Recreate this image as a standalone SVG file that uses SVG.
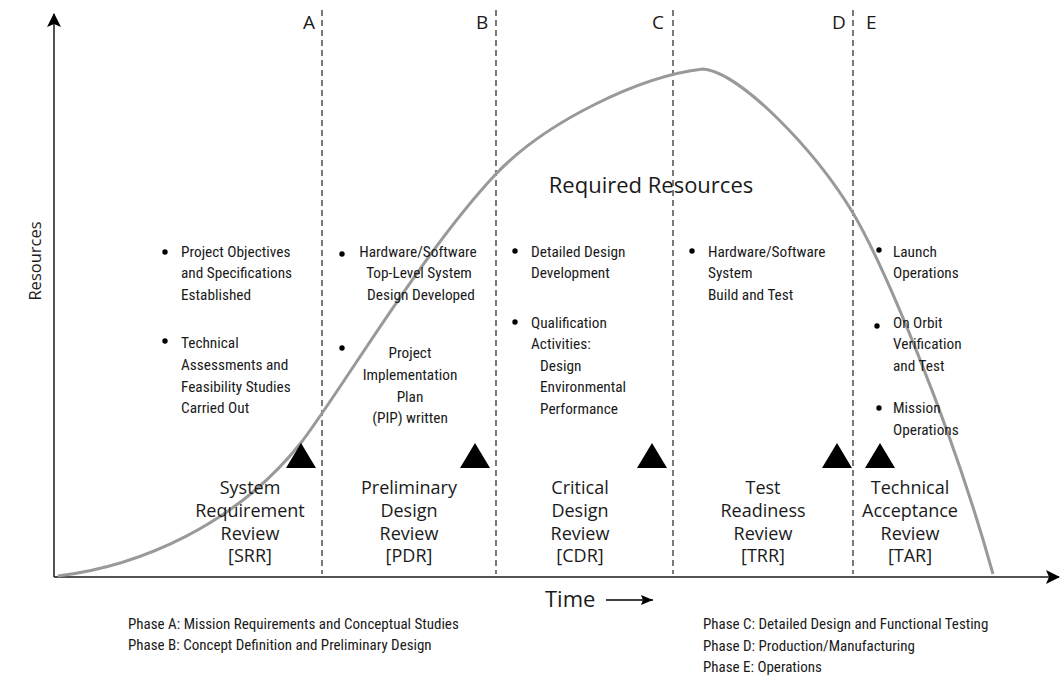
<svg xmlns="http://www.w3.org/2000/svg" width="1061" height="677" viewBox="0 0 1061 677">
<style>
.ax{stroke:#1a1a1a;stroke-width:1.5;fill:none}
.dash{stroke:#333;stroke-width:1.3;stroke-dasharray:6 4;fill:none}
.curve{stroke:#999;stroke-width:3;fill:none}
.lbl{font-family:"Open Sans","Liberation Sans",sans-serif;font-size:19px;fill:#1a1a1a}
.big{font-size:22px}
.ylab{font-size:16.5px}
.rev{font-family:"Open Sans","Liberation Sans",sans-serif;font-size:18px;fill:#1a1a1a;text-anchor:middle}
.bt{font-family:"Liberation Sans Narrow","Roboto Condensed","DejaVu Sans Condensed","Liberation Sans",sans-serif;font-size:15.3px;fill:#1a1a1a}
.ph{font-family:"Liberation Sans Narrow","Roboto Condensed","DejaVu Sans Condensed","Liberation Sans",sans-serif;font-size:15px;fill:#1a1a1a}
.mid{text-anchor:middle}
.tri{fill:#000}
.dot{fill:#000}
</style>
<defs>
<marker id="ah" markerWidth="14" markerHeight="14" refX="13" refY="7" orient="auto" markerUnits="userSpaceOnUse">
<path d="M0,0 L14,7 L0,14 L3,7 Z" fill="#000"/>
</marker>
<marker id="ahs" markerWidth="12" markerHeight="10" refX="12" refY="5" orient="auto" markerUnits="userSpaceOnUse">
<path d="M0,0 L12,5 L0,10 L2,5 Z" fill="#000"/>
</marker>
</defs>
<g id="connectors">
<line class="ax" x1="54" y1="577" x2="54" y2="14" marker-end="url(#ah)"/>
<line class="ax" x1="54" y1="577" x2="1059" y2="577" marker-end="url(#ah)"/>
<line class="dash" x1="322" y1="10" x2="322" y2="574"/>
<line class="dash" x1="496" y1="10" x2="496" y2="574"/>
<line class="dash" x1="673" y1="10" x2="673" y2="574"/>
<line class="dash" x1="853" y1="10" x2="853" y2="574"/>
<path class="curve" d="M58,576 C140,566 235,525 300,444 C335,400 420,255 495,175 C545,122 640,76 703,69 C740,72 815,150 853,213 C883,264 950,420 993,574"/>
<line x1="606" y1="600" x2="653" y2="600" stroke="#000" stroke-width="1.3" marker-end="url(#ahs)"/>
</g>
<g id="phase-letters">
<text class="lbl" x="303" y="29">A</text>
<text class="lbl" x="476" y="29">B</text>
<text class="lbl" x="652" y="29">C</text>
<text class="lbl" x="832" y="29">D</text>
<text class="lbl" x="866" y="29">E</text>
</g>
<g id="axis-labels">
<text class="lbl ylab mid" transform="translate(41,261) rotate(-90)">Resources</text>
<text class="lbl big" x="545" y="607">Time</text>
<text class="lbl big mid" x="651" y="193">Required Resources</text>
</g>
<g id="phaseA-activities">
<circle class="dot" cx="165" cy="252" r="2.7"/>
<text class="bt" x="181" y="257">Project Objectives</text>
<text class="bt" x="181" y="278">and Specifications</text>
<text class="bt" x="181" y="300">Established</text>
<circle class="dot" cx="165" cy="341" r="2.7"/>
<text class="bt" x="181" y="348">Technical</text>
<text class="bt" x="181" y="370">Assessments and</text>
<text class="bt" x="181" y="392">Feasibility Studies</text>
<text class="bt" x="181" y="413">Carried Out</text>
</g>
<g id="phaseB-activities">
<circle class="dot" cx="342" cy="254" r="2.7"/>
<text class="bt mid" x="418" y="257">Hardware/Software</text>
<text class="bt mid" x="419" y="278">Top-Level System</text>
<text class="bt mid" x="421" y="300">Design Developed</text>
<circle class="dot" cx="342" cy="348" r="2.7"/>
<text class="bt mid" x="410" y="358">Project</text>
<text class="bt mid" x="410" y="380">Implementation</text>
<text class="bt mid" x="410" y="402">Plan</text>
<text class="bt mid" x="410" y="423">(PIP) written</text>
</g>
<g id="phaseC-activities">
<circle class="dot" cx="515" cy="251" r="2.7"/>
<text class="bt" x="531" y="257">Detailed Design</text>
<text class="bt" x="531" y="278">Development</text>
<circle class="dot" cx="515" cy="322" r="2.7"/>
<text class="bt" x="531" y="328">Qualification</text>
<text class="bt" x="531" y="349">Activities:</text>
<text class="bt" x="540" y="371">Design</text>
<text class="bt" x="540" y="392">Environmental</text>
<text class="bt" x="540" y="414">Performance</text>
</g>
<g id="phaseD-activities">
<circle class="dot" cx="692" cy="251" r="2.7"/>
<text class="bt" x="708" y="257">Hardware/Software</text>
<text class="bt" x="708" y="278">System</text>
<text class="bt" x="708" y="300">Build and Test</text>
</g>
<g id="phaseE-activities">
<circle class="dot" cx="879" cy="250" r="2.7"/>
<text class="bt" x="893" y="257">Launch</text>
<text class="bt" x="893" y="278">Operations</text>
<circle class="dot" cx="877" cy="326" r="2.7"/>
<text class="bt" x="893" y="328">On Orbit</text>
<text class="bt" x="893" y="349">Verification</text>
<text class="bt" x="893" y="371">and Test</text>
<circle class="dot" cx="879" cy="408" r="2.7"/>
<text class="bt" x="893" y="413">Mission</text>
<text class="bt" x="893" y="435">Operations</text>
</g>
<g id="SRR">
<polygon class="tri" points="301,443 286,468 316,468"/>
<text class="rev" x="250" y="494">System</text>
<text class="rev" x="250" y="517">Requirement</text>
<text class="rev" x="250" y="540">Review</text>
<text class="rev" x="250" y="562">[SRR]</text>
</g>
<g id="PDR">
<polygon class="tri" points="475,443 460,468 490,468"/>
<text class="rev" x="409" y="494">Preliminary</text>
<text class="rev" x="409" y="517">Design</text>
<text class="rev" x="409" y="540">Review</text>
<text class="rev" x="409" y="562">[PDR]</text>
</g>
<g id="CDR">
<polygon class="tri" points="652,443 637,468 667,468"/>
<text class="rev" x="580" y="494">Critical</text>
<text class="rev" x="580" y="517">Design</text>
<text class="rev" x="580" y="540">Review</text>
<text class="rev" x="580" y="562">[CDR]</text>
</g>
<g id="TRR">
<polygon class="tri" points="837,443 822,468 852,468"/>
<text class="rev" x="763" y="494">Test</text>
<text class="rev" x="763" y="517">Readiness</text>
<text class="rev" x="763" y="540">Review</text>
<text class="rev" x="763" y="562">[TRR]</text>
</g>
<g id="TAR">
<polygon class="tri" points="880,443 865,468 895,468"/>
<text class="rev" x="910" y="494">Technical</text>
<text class="rev" x="910" y="517">Acceptance</text>
<text class="rev" x="910" y="540">Review</text>
<text class="rev" x="910" y="562">[TAR]</text>
</g>
<g id="legend">
<text class="ph" x="128" y="629">Phase A: Mission Requirements and Conceptual Studies</text>
<text class="ph" x="128" y="650">Phase B: Concept Definition and Preliminary Design</text>
<text class="ph" x="703" y="629">Phase C: Detailed Design and Functional Testing</text>
<text class="ph" x="703" y="651">Phase D: Production/Manufacturing</text>
<text class="ph" x="703" y="672">Phase E: Operations</text>
</g>
</svg>
